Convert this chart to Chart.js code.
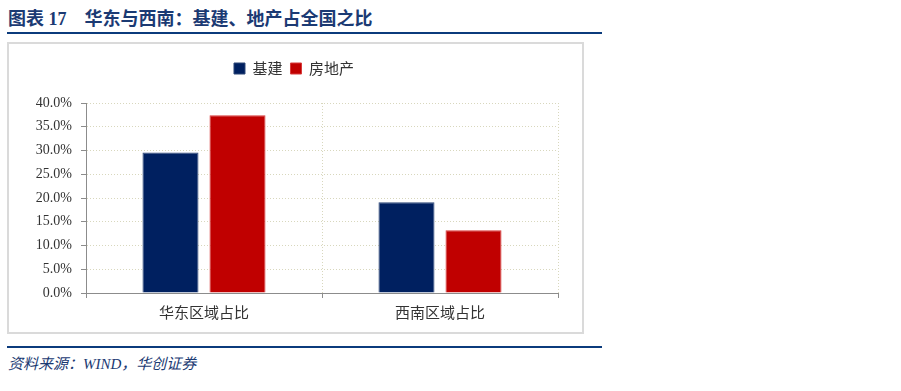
<!DOCTYPE html>
<html>
<head>
<meta charset="utf-8">
<script src="https://cdn.jsdelivr.net/npm/chart.js@4.4.1/dist/chart.umd.min.js"></script>
<style>
  body { margin: 0; background: #fff; width: 901px; height: 391px; position: relative; overflow: hidden; }
  .title { position: absolute; left: 8px; top: 4px; font: bold 18px "Liberation Serif", "Noto Sans CJK SC", serif; color: #1b3a73; white-space: pre; }
  .rule { position: absolute; left: 7px; width: 595px; height: 2px; background: #0b3b7c; }
  .box { position: absolute; left: 7px; top: 42px; width: 573px; height: 288px; border: 2px solid #dadada; }
  .source { position: absolute; left: 8px; top: 352px; font: italic 15px "Liberation Serif", "Noto Sans CJK SC", serif; color: #1b3a73; }
</style>
</head>
<body>
<div class="title">图表 17　华东与西南：基建、地产占全国之比</div>
<div class="rule" style="top:32px"></div>
<div class="box"><canvas id="chart" width="573" height="288"></canvas></div>
<div class="rule" style="top:346px"></div>
<div class="source">资料来源：WIND，华创证券</div>
<script>
const categories = ['华东区域占比', '西南区域占比'];
const seriesNames = ['基建', '房地产'];
const infraShare = [29.6, 19.1];
const propertyShare = [37.4, 13.2];
const yTicks = [0, 5, 10, 15, 20, 25, 30, 35, 40];

// keep the legend in its own band above the plot
const legendPlace = {
  id: 'legendPlace',
  beforeInit(chart) {
    const lg = chart.legend;
    const fit = lg.fit;
    lg.fit = function () {
      fit.call(this);
      this.height = 59;
    };
  },
  afterLayout(chart) {
    const lg = chart.legend;
    lg.top = 9;
    lg.left = 0;
    lg.right = 2 * 289 - 8;
  }
};

const gridColor = '#d8d7bd';
const axisColor = '#8c8c8c';

new Chart(document.getElementById('chart'), {
  type: 'bar',
  data: {
    labels: categories,
    datasets: [
      { label: seriesNames[0], data: infraShare, backgroundColor: '#002060', borderColor: '#2c4677', borderWidth: 1 },
      { label: seriesNames[1], data: propertyShare, backgroundColor: '#c00000', borderColor: '#d83a3a', borderWidth: 1 }
    ]
  },
  options: {
    responsive: false,
    animation: false,
    devicePixelRatio: 1,
    layout: { padding: { left: 0, right: 24, top: 0, bottom: 0 } },
    datasets: { bar: { categoryPercentage: 0.568, barPercentage: 0.836 } },
    plugins: {
      tooltip: { enabled: false },
      legend: {
        position: 'top',
        labels: {
          boxWidth: 11,
          boxHeight: 11,
          padding: 8,
          color: '#333',
          font: { family: '"Noto Sans CJK SC", sans-serif', size: 15 }
        }
      }
    },
    scales: {
      x: {
        afterFit(scale) { scale.height = 39; },
        grid: { color: gridColor, lineWidth: 1, tickLength: 5, tickColor: axisColor, tickBorderDash: [] },
        border: { color: axisColor, width: 1, dash: [1, 2] },
        ticks: { color: '#333', padding: 5, font: { family: '"Noto Sans CJK SC", sans-serif', size: 15 } }
      },
      y: {
        min: 0,
        max: 40,
        afterFit(scale) { scale.width = 77; },
        afterBuildTicks(scale) { scale.ticks = yTicks.map(v => ({ value: v })); },
        grid: { color: gridColor, lineWidth: 1, tickLength: 5, tickColor: axisColor, tickBorderDash: [] },
        border: { color: axisColor, width: 1, dash: [1, 2] },
        ticks: {
          color: '#333',
          padding: 9,
          font: { family: '"Liberation Serif", serif', size: 14 },
          callback: v => v.toFixed(1) + '%'
        }
      }
    }
  },
  plugins: [legendPlace]
});
</script>
</body>
</html>
